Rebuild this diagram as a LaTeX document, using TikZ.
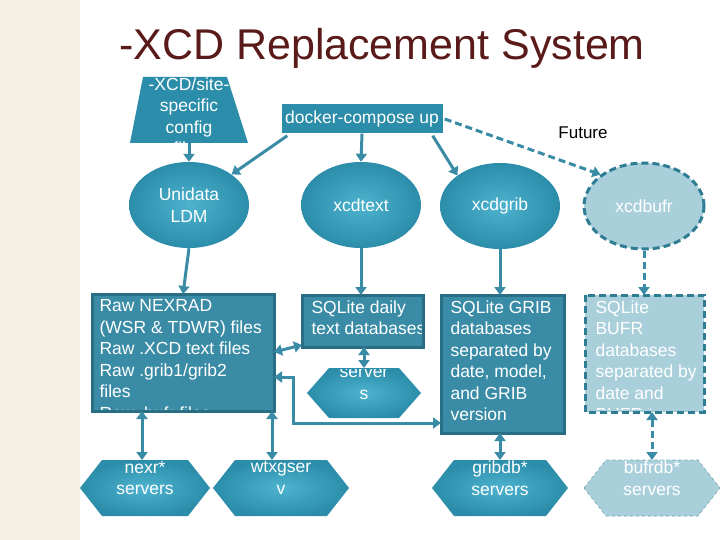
\documentclass[tikz,border=0pt]{standalone}
\usepackage{fontspec}
\setmainfont{Liberation Sans}
\usetikzlibrary{shapes.geometric,arrows.meta,shadows}
\definecolor{teal1}{HTML}{2B8DA9}
\definecolor{teal2}{HTML}{4DB3CF}
\definecolor{boxf}{HTML}{3A8CA6}
\definecolor{boxd}{HTML}{2A6E86}
\definecolor{arr}{HTML}{3A8CA6}
\definecolor{lite}{HTML}{A9CFDB}
\definecolor{lited}{HTML}{2F7D93}
\definecolor{titlec}{HTML}{5A1A1A}
\definecolor{strip}{HTML}{F3F0E2}
\begin{document}
\begin{tikzpicture}[x=1pt,y=-1pt,
  txt/.style={text=white,font=\fontsize{17.5}{21.5}\selectfont,align=center},
  ellb/.style={ellipse,minimum width=120pt,minimum height=86pt,inner sep=0pt,txt},
  ell/.style={ellb,shading=radial,inner color=teal2,outer color=teal1},
  box/.style={draw=boxd,line width=3pt,fill=boxf,inner sep=0pt},
  hexs/.style={shading=radial,inner color=teal2,outer color=teal1},
  tip/.tip={Triangle[width=11pt,length=8pt]},
  ar/.style={draw=arr,line width=3pt,-tip},
  dar/.style={ar,dash pattern=on 7pt off 4pt},
  bar/.style={ar,tip-tip},
  bt/.style={txt,align=left,anchor=north west,font=\fontsize{17.5}{21.5}\selectfont}]
\useasboundingbox (0,0) rectangle (720,540);
\fill[white] (0,0) rectangle (720,540);
\fill[strip] (0,0) rectangle (80,540);
% title
\node[text=titlec,font=\fontsize{43}{48}\selectfont] (title) at (382,48) {-XCD Replacement System};
% config trapezoid
\fill[teal1] (143,77) -- (227,77) -- (248,143) -- (130,143) -- cycle;
\coordinate (cfg) at (189,143);
\begin{scope}\clip (130,70) rectangle (250,143);
\node[txt] at (189,116) {-XCD/site-\\specific\\config\\files};
\end{scope}
% docker
\node[fill=teal1,minimum width=161pt,minimum height=29pt,inner sep=0pt,txt] (dock) at (362,119) {docker-compose up};
\node[font=\fontsize{17}{18}\selectfont] (fut) at (583,133) {Future};
% ellipses
\node[ell] (ldm) at (189,205) {Unidata\\LDM};
\node[ell] (xtext) at (361,205) {xcdtext};
\node[ell] (xgrib) at (500,206) {xcdgrib};
\node[ellb,fill=lite,draw=lited,line width=3pt,dash pattern=on 7pt off 4pt] (xbufr) at (644,206) {xcdbufr};
% boxes
\draw[box] (92,294) rectangle (274,411);
\coordinate (raw) at (183,294);
\begin{scope}\clip (94,296) rectangle (272,409);
\node[bt] at (96,296) {Raw NEXRAD\\(WSR \& TDWR) files\\Raw .XCD text files\\Raw .grib1/grib2\\files\\Raw .bufr files};
\end{scope}
\draw[box] (302,295) rectangle (423,347);
\begin{scope}\clip (304,297) rectangle (421,345);
\node[bt] at (308,297) {SQLite daily\\text databases};
\end{scope}
\draw[box] (441,295) rectangle (564,433);
\node[bt] at (447,297) {SQLite GRIB\\databases\\separated by\\date, model,\\and GRIB\\version};
\draw[lited,fill=lite,line width=3pt,dash pattern=on 7pt off 4pt] (585,295) rectangle (704,412);
\begin{scope}\clip (588,297) rectangle (701,409);
\node[bt] at (592,297) {SQLite\\BUFR\\databases\\separated by\\date and\\BUFR type};
\end{scope}
% hexagons
\newcommand{\hexa}[5]{% cx cy halfw halfh style
 \path[#5] (#1-#3,#2) -- (#1-#3+22,#2-#4) -- (#1+#3-22,#2-#4) -- (#1+#3,#2) -- (#1+#3-22,#2+#4) -- (#1-#3+22,#2+#4) -- cycle;}
\hexa{364}{393}{57}{25}{hexs}
\hexa{145}{488}{65}{28}{hexs}
\hexa{281}{488}{68}{28}{hexs}
\hexa{500}{488}{68}{28}{hexs}
\hexa{652}{488}{68}{28}{fill=lite,draw=lited!70,dashed,line width=0.6pt}
\begin{scope}\clip (307,369) rectangle (421,418);
\node[txt] (srv) at (364,372) {text\\server\\s};
\end{scope}
\coordinate (srvt) at (364,368);
\foreach \n/\x/\t in {nexr/145/{nexr*\\servers},wtx/281/{wtxgser\\v},gribdb/500/{gribdb*\\servers},bufrdb/652/{bufrdb*\\servers}}{
 \begin{scope}\clip (\x-68,460) rectangle (\x+68,516);
 \node[txt] (\n) at (\x,478) {\t};
 \end{scope}}
\coordinate (nexrt) at (142,460);
\coordinate (wtxt) at (272,460);
\coordinate (gribdbt) at (500,460);
\coordinate (bufrdbt) at (652,460);
% arrows
\draw[ar] (cfg) -- (ldm.north);
\draw[ar] (dock.south west) ++(6,2) -- (ldm.north east);
\draw[ar] (dock.south) -- (xtext.north);
\draw[ar] (dock.south east) ++(-10,2) -- (xgrib.north west);
\draw[dar] (dock.east) ++(2,0) -- (xbufr.north west);
\draw[ar] (ldm.south) -- (raw);
\draw[ar] (xtext.south) -- (361,295);
\draw[ar] (xgrib.south) -- (500,295);
\draw[dar] (xbufr.south) -- (644,295);
\draw[bar] (274,352) -- (302,345);
\draw[bar] (364,347) -- (srvt);
\draw[bar] (274,377) -- (293,377) -- (293,423) -- (441,423);
\draw[bar] (142,411) -- (nexrt);
\draw[bar] (272,411) -- (wtxt);
\draw[bar] (500,433) -- (gribdbt);
\draw[bar,dash pattern=on 7pt off 4pt] (652,412) -- (bufrdbt);
\end{tikzpicture}
\end{document}
